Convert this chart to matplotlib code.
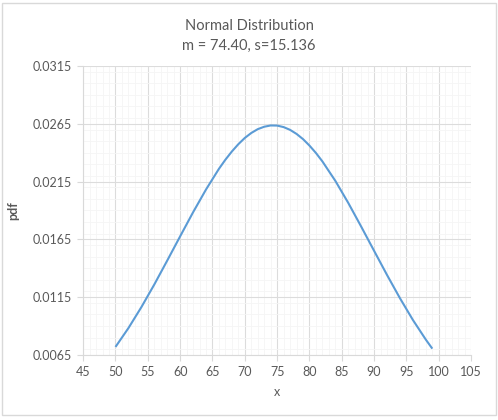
import matplotlib
matplotlib.use("Agg")
import matplotlib.pyplot as plt
from matplotlib.patches import Rectangle
from matplotlib.ticker import MultipleLocator, FormatStrFormatter

# values (m = 74.40, s = 15.136)
x_vals = [50, 52, 54, 56, 58, 60, 62, 64, 66, 67, 68, 69, 70, 71, 72, 73,
          74, 75, 76, 77, 78, 79, 80, 81, 82, 84, 86, 88, 90, 92, 94, 96,
          98, 99]
pdf_vals = [0.00719, 0.00882, 0.01063, 0.01259, 0.01466, 0.01676, 0.01884,
            0.02081, 0.02260, 0.02339, 0.02410, 0.02473, 0.02527, 0.02570,
            0.02603, 0.02624, 0.02635, 0.02634, 0.02621, 0.02597, 0.02562,
            0.02517, 0.02461, 0.02397, 0.02324, 0.02156, 0.01965, 0.01760,
            0.01550, 0.01341, 0.01140, 0.00952, 0.00782, 0.00704]

x_ticks = [45, 50, 55, 60, 65, 70, 75, 80, 85, 90, 95, 100, 105]
y_ticks = [0.0065, 0.0115, 0.0165, 0.0215, 0.0265, 0.0315]

title = "Normal Distribution\nm = 74.40, s=15.136"

plt.rcParams['font.family'] = ['Lato', 'DejaVu Sans']
text_color = '#595959'

fig = plt.figure(figsize=(4.98, 4.2), dpi=100)
ax = fig.add_axes([0.167, 0.155, 0.779, 0.688])

ax.plot(x_vals, pdf_vals, color='#5b9bd5', lw=1.5, solid_capstyle='butt')

ax.set_xlim(x_ticks[0], x_ticks[-1])
ax.set_ylim(y_ticks[0], y_ticks[-1])
ax.set_xticks(x_ticks)
ax.set_yticks(y_ticks)
ax.yaxis.set_major_formatter(FormatStrFormatter('%.4f'))
ax.xaxis.set_minor_locator(MultipleLocator(1))
ax.yaxis.set_minor_locator(MultipleLocator(0.001))

ax.grid(True, which='major', color='#dcdcdc', lw=0.8)
ax.grid(True, which='minor', color='#f5f5f5', lw=0.6)
ax.set_axisbelow(True)

for side in ['top', 'right']:
    ax.spines[side].set_visible(False)
ax.spines['left'].set_color('#d9d9d9')
ax.spines['bottom'].set_color('#d9d9d9')

ax.tick_params(which='major', length=4, color='#d9d9d9', labelsize=9,
               labelcolor=text_color, pad=4)
ax.tick_params(which='minor', length=0)

ax.set_xlabel('x', fontsize=9, color=text_color, labelpad=6)
ax.set_ylabel('pdf', fontsize=9, color=text_color, labelpad=10,
              fontweight='bold')

fig.text(0.5, 0.915, title, ha='center', va='center', fontsize=10.5,
         color=text_color, linespacing=1.5)

# chart area border
fig.patches.append(Rectangle((0.004, 0.012), 0.992, 0.981,
                             transform=fig.transFigure, fill=False,
                             edgecolor='#d9d9d9', lw=1))

fig.savefig('out.png', dpi=100)
